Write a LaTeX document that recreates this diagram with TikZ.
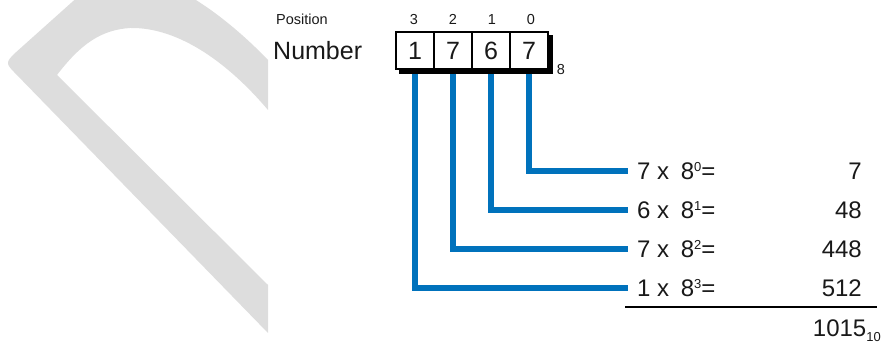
\documentclass[tikz,border=0pt]{standalone}
\usepackage{fontspec}
\setmainfont{Liberation Sans}
\usetikzlibrary{backgrounds}
\definecolor{wmgrey}{RGB}{221,221,221}
\definecolor{lineblue}{RGB}{0,114,188}
\definecolor{txt}{RGB}{25,25,25}
\newcommand\supdig[1]{\raisebox{7.9pt}{\fontsize{13}{13}\selectfont #1}}
\newcommand\subdig[1]{\raisebox{-4.5pt}{\fontsize{13}{13}\selectfont #1}}
\begin{document}
\begin{tikzpicture}[x=1pt,y=-1pt,
  small/.style={inner sep=0pt,font=\fontsize{14.5}{15}\selectfont,text=txt},
  big/.style={inner sep=0pt,font=\fontsize{25}{26}\selectfont,text=txt},
  rowtxt/.style={inner sep=0pt,font=\fontsize{24}{25}\selectfont,text=txt},
  cell/.style={draw=black,line width=2pt,fill=white,minimum width=38pt,minimum height=37pt,inner sep=0pt,font=\fontsize{25}{26}\selectfont,text=txt},
  conn/.style={draw=lineblue,line width=6pt},
]
\useasboundingbox (0,0) rectangle (883,344);

% texts
\node[small,anchor=base west] (pos) at (276,25) {Position};
\node[big,anchor=base west] (num) at (273,60) {Number};

\node[cell] (c3) at (415,50.5) {1};
\node[cell] (c2) at (453,50.5) {7};
\node[cell] (c1) at (491,50.5) {6};
\node[cell] (c0) at (529,50.5) {7};

\node[small,anchor=base] (p3) at (414,25) {3};
\node[small,anchor=base] (p2) at (453,25) {2};
\node[small,anchor=base] (p1) at (492,25) {1};
\node[small,anchor=base] (p0) at (531,25) {0};

\node[small] (base8) at (561,70) {8};

\node[rowtxt,anchor=west] (r0) at (637,171) {7 x\hspace{5pt} 8\supdig{0}=};
\node[rowtxt,anchor=west] (r1) at (637,210) {6 x\hspace{5pt} 8\supdig{1}=};
\node[rowtxt,anchor=west] (r2) at (637,249) {7 x\hspace{5pt} 8\supdig{2}=};
\node[rowtxt,anchor=west] (r3) at (637,288) {1 x\hspace{5pt} 8\supdig{3}=};

\node[rowtxt,anchor=east] (v0) at (862,171) {7};
\node[rowtxt,anchor=east] (v1) at (862,210) {48};
\node[rowtxt,anchor=east] (v2) at (862,249) {448};
\node[rowtxt,anchor=east] (v3) at (862,288) {512};

\coordinate (sumL) at (625,307);
\coordinate (sumR) at (877,307);
\draw[line width=2pt,black] (sumL) -- (sumR);

\node[rowtxt,anchor=base east] (tot) at (881,337) {1015\subdig{10}};

% connectors
\draw[conn] ([yshift=-4pt]c0.south) |- ([xshift=-9pt]r0.west);
\draw[conn] ([yshift=-4pt]c1.south) |- ([xshift=-9pt]r1.west);
\draw[conn] ([yshift=-4pt]c2.south) |- ([xshift=-9pt]r2.west);
\draw[conn] ([yshift=-4pt]c3.south) |- ([xshift=-9pt]r3.west);

\begin{scope}[on background layer]
  \begin{scope}
    \clip (0,0) rectangle (883,344);
    \fill[wmgrey] (268,333) -- (14,72) .. controls (6,64) and (6,62) .. (14,54)
      -- (90,-14) .. controls (140,-50) and (220,10) .. (268,60)
      -- (268,110) .. controls (230,65) and (180,27) .. (130,28)
      .. controls (100,30) and (80,45) .. (57,75)
      -- (268,285) -- cycle;
  \end{scope}
  \fill[black] ([shift={(4pt,-4pt)}]c3.north west) rectangle ([shift={(4pt,-4pt)}]c0.south east);
\end{scope}
\end{tikzpicture}
\end{document}
